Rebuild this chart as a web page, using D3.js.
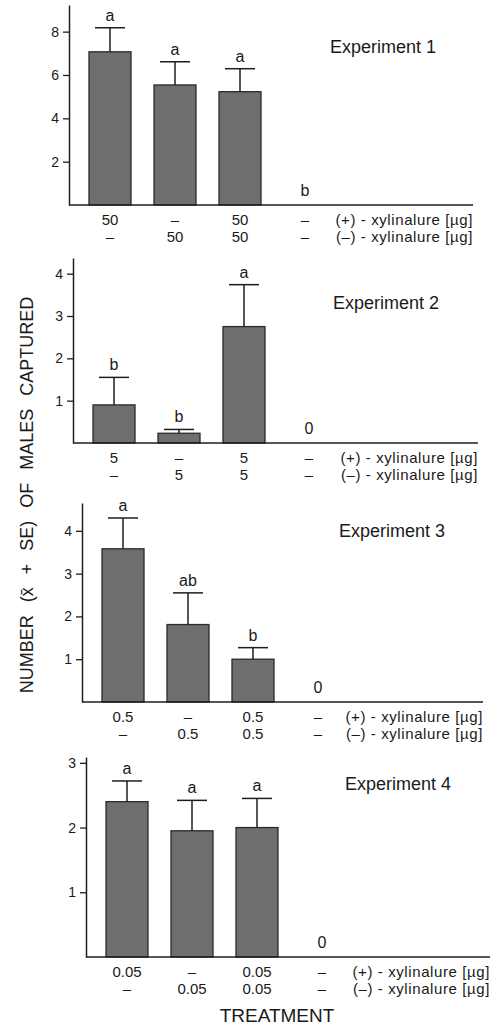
<!DOCTYPE html>
<html>
<head>
<meta charset="utf-8">
<script src="https://cdn.jsdelivr.net/npm/d3@7"></script>
<style>
  body { margin: 0; background: #fff; }
  text { font-family: "Liberation Sans", Arial, sans-serif; fill: #1a1a1a; }
</style>
</head>
<body>
<svg width="494" height="1026"></svg>
<script>
// treatments (columns), same in each experiment
const treatments = ["plus", "minus", "both", "blank"]

// experiment 1 : 50 ug
const exp1Mean = [7.07, 5.54, 5.23, 0]
const exp1SE = [1.11, 1.07, 1.06, 0]
const exp1Letters = ["a", "a", "a", "b"]
const exp1Plus = ["50", "–", "50", "–"]
const exp1Minus = ["–", "50", "50", "–"]
const exp1Ticks = [2, 4, 6, 8]

// experiment 2 : 5 ug
const exp2Mean = [0.90, 0.23, 2.75, 0]
const exp2SE = [0.65, 0.09, 0.99, 0]
const exp2Letters = ["b", "b", "a", "0"]
const exp2Plus = ["5", "–", "5", "–"]
const exp2Minus = ["–", "5", "5", "–"]
const exp2Ticks = [1, 2, 3, 4]

// experiment 3 : 0.5 ug
const exp3Mean = [3.58, 1.81, 1.00, 0]
const exp3SE = [0.72, 0.74, 0.27, 0]
const exp3Letters = ["a", "ab", "b", "0"]
const exp3Plus = ["0.5", "–", "0.5", "–"]
const exp3Minus = ["–", "0.5", "0.5", "–"]
const exp3Ticks = [1, 2, 3, 4]

// experiment 4 : 0.05 ug
const exp4Mean = [2.40, 1.95, 2.00, 0]
const exp4SE = [0.32, 0.47, 0.45, 0]
const exp4Letters = ["a", "a", "a", "0"]
const exp4Plus = ["0.05", "–", "0.05", "–"]
const exp4Minus = ["–", "0.05", "0.05", "–"]
const exp4Ticks = [1, 2, 3]

const rowNames = ["(+) - xylinalure [µg]", "(–) - xylinalure [µg]"]

const panels = [
  {title: "Experiment 1", mean: exp1Mean, se: exp1SE, letters: exp1Letters, plus: exp1Plus, minus: exp1Minus, ticks: exp1Ticks,
   axisX: 69, top: 5, base: 205, yTop: 9.23, right: 473, titleX: 330, titleY: 53},
  {title: "Experiment 2", mean: exp2Mean, se: exp2SE, letters: exp2Letters, plus: exp2Plus, minus: exp2Minus, ticks: exp2Ticks,
   axisX: 73, top: 258, base: 443, yTop: 4.37, right: 478, titleX: 333, titleY: 309},
  {title: "Experiment 3", mean: exp3Mean, se: exp3SE, letters: exp3Letters, plus: exp3Plus, minus: exp3Minus, ticks: exp3Ticks,
   axisX: 82, top: 503, base: 702, yTop: 4.65, right: 483, titleX: 339, titleY: 537},
  {title: "Experiment 4", mean: exp4Mean, se: exp4SE, letters: exp4Letters, plus: exp4Plus, minus: exp4Minus, ticks: exp4Ticks,
   axisX: 86, top: 757, base: 957, yTop: 3.09, right: 490, titleX: 345, titleY: 790}
]

const svg = d3.select("svg")
const ink = "#1e1e1e"

panels.forEach(function (p) {
  let g = svg.append("g")

  let x = d3.scalePoint().domain(treatments).range([p.axisX + 41, p.axisX + 236])
  let y = d3.scaleLinear().domain([0, p.yTop]).range([p.base, p.top])
  let barW = 42

  // bars
  g.selectAll("rect.bar")
    .data(treatments.filter((t, i) => p.mean[i] > 0))
    .enter().append("rect")
    .attr("class", "bar")
    .attr("x", d => x(d) - barW / 2)
    .attr("y", d => y(p.mean[treatments.indexOf(d)]))
    .attr("width", barW)
    .attr("height", d => y(0) - y(p.mean[treatments.indexOf(d)]))
    .attr("fill", "#6e6e6e")
    .attr("stroke", "#2a2a2a")
    .attr("stroke-width", 1.3)

  // error bars (mean + SE)
  treatments.forEach(function (t, i) {
    if (p.mean[i] <= 0) return
    let top = y(p.mean[i] + p.se[i])
    g.append("line")
      .attr("x1", x(t)).attr("x2", x(t))
      .attr("y1", y(p.mean[i])).attr("y2", top)
      .attr("stroke", ink).attr("stroke-width", 1.5)
    g.append("line")
      .attr("x1", x(t) - 15).attr("x2", x(t) + 15)
      .attr("y1", top).attr("y2", top)
      .attr("stroke", ink).attr("stroke-width", 1.5)
  })

  // significance letters
  g.selectAll("text.sig")
    .data(treatments)
    .enter().append("text")
    .attr("class", "sig")
    .attr("x", d => x(d))
    .attr("y", (d, i) => p.mean[i] > 0 ? y(p.mean[i] + p.se[i]) - 7 : y(0) - 9)
    .attr("text-anchor", "middle")
    .style("font-size", "16px")
    .text((d, i) => p.letters[i])

  // y axis
  let ax = g.append("g")
    .attr("transform", "translate(" + p.axisX + ",0)")
    .call(d3.axisLeft(y).tickValues(p.ticks).tickFormat(d3.format("d")).tickSize(6).tickSizeOuter(0).tickPadding(4))
  ax.select(".domain").attr("stroke", ink).attr("stroke-width", 1.5)
  ax.selectAll(".tick line").attr("stroke", ink).attr("stroke-width", 1.3)
  ax.selectAll(".tick text").style("font-size", "14px").style("font-family", "\"Liberation Sans\", Arial, sans-serif").attr("fill", ink)

  // baseline
  g.append("line")
    .attr("x1", p.axisX).attr("x2", p.right)
    .attr("y1", y(0)).attr("y2", y(0))
    .attr("stroke", ink).attr("stroke-width", 1.5)

  // dose rows
  ;[p.plus, p.minus].forEach(function (row, r) {
    let ty = y(0) + 20 + r * 17
    g.selectAll("text.row" + r)
      .data(treatments)
      .enter().append("text")
      .attr("x", d => x(d))
      .attr("y", ty)
      .attr("text-anchor", "middle")
      .style("font-size", "15px")
      .text((d, i) => row[i])
    g.append("text")
      .attr("x", p.right)
      .attr("y", ty)
      .attr("text-anchor", "end")
      .style("font-size", "15px")
      .style("letter-spacing", "0.6px")
      .text(rowNames[r])
  })

  // experiment title
  g.append("text")
    .attr("x", p.titleX)
    .attr("y", p.titleY)
    .style("font-size", "18px")
    .text(p.title)
})

// shared axis titles
svg.append("text")
  .attr("transform", "translate(33,495) rotate(-90)")
  .attr("text-anchor", "middle")
  .style("font-size", "18px")
  .style("word-spacing", "8px")
  .text("NUMBER (x̄ + SE) OF MALES CAPTURED")

svg.append("text")
  .attr("x", 277)
  .attr("y", 1022)
  .attr("text-anchor", "middle")
  .style("font-size", "19px")
  .text("TREATMENT")
</script>
</body>
</html>
